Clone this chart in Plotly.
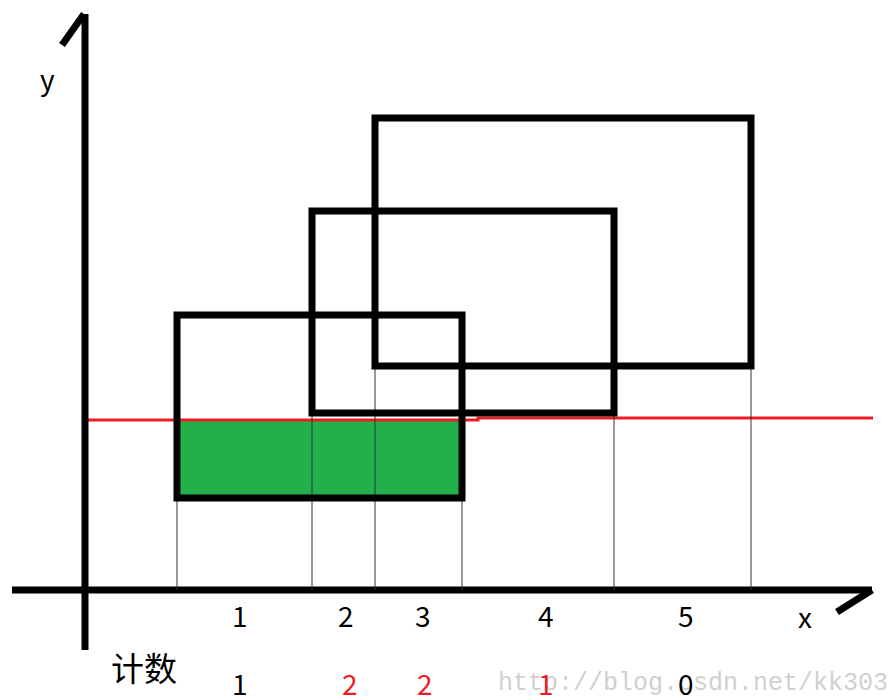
import plotly.graph_objects as go

# Rectangles (x0, x1, y_top, y_bottom) in picture units
rect_x0 = [177, 312, 375]
rect_x1 = [462, 614, 751]
rect_y0 = [315, 211, 118]
rect_y1 = [498, 413, 366]

# Filled region below the scan line
fill_x = [177, 462]
fill_y = [420, 498]

# scan line
scan_x = [85, 478, 478, 873]
scan_y = [420, 420, 418, 418]

# guide lines: x position, top y
guide_x = [177, 312, 375, 462, 614, 751]
guide_top = [498, 413, 366, 498, 413, 366]
axis_y = 590

# axes
yaxis_line_x = [85, 85]
yaxis_line_y = [650, 14]
yarrow_x = [84, 62]
yarrow_y = [14, 45]
xaxis_line_x = [12, 872]
xaxis_line_y = [590, 590]
xarrow_x = [872, 837]
xarrow_y = [590, 612]

# labels
seg_labels = ["1", "2", "3", "4", "5"]
seg_x = [240, 346, 423, 546, 686]
counts = ["1", "2", "2", "1", "0"]
count_x = [240, 350, 425, 546, 686]
count_colors = ["black", "#ED1C24", "#ED1C24", "#ED1C24", "black"]

fig = go.Figure()

# green fill
fig.add_shape(type="rect", xref="x", yref="y", x0=fill_x[0], x1=fill_x[1],
              y0=fill_y[0], y1=fill_y[1], fillcolor="#22B04B",
              line=dict(width=0), layer="below")

# guide lines
for gx, gt in zip(guide_x, guide_top):
    fig.add_shape(type="line", xref="x", yref="y", x0=gx, x1=gx, y0=gt, y1=axis_y,
                  line=dict(color="#333333", width=1))

# rectangles
for x0, x1, y0, y1 in zip(rect_x0, rect_x1, rect_y0, rect_y1):
    fig.add_shape(type="rect", xref="x", yref="y", x0=x0, x1=x1, y0=y0, y1=y1,
                  line=dict(color="black", width=7), fillcolor="rgba(0,0,0,0)")

# scan line
fig.add_trace(go.Scatter(x=scan_x, y=scan_y, mode="lines",
                         line=dict(color="#ED1C24", width=3), hoverinfo="skip"))

# axes
for lx, ly in [(yaxis_line_x, yaxis_line_y), (yarrow_x, yarrow_y),
               (xaxis_line_x, xaxis_line_y), (xarrow_x, xarrow_y)]:
    fig.add_trace(go.Scatter(x=lx, y=ly, mode="lines",
                             line=dict(color="black", width=7), hoverinfo="skip"))

font_main = "Noto Sans CJK SC"

fig.add_annotation(x=47, y=78, text="y", showarrow=False,
                   font=dict(family=font_main, size=28, color="black"))
fig.add_annotation(x=805, y=616, text="x", showarrow=False,
                   font=dict(family=font_main, size=28, color="black"))

for lab, sx in zip(seg_labels, seg_x):
    fig.add_annotation(x=sx, y=615, text=lab, showarrow=False,
                       font=dict(family=font_main, size=28, color="black"))

# watermark
fig.add_annotation(x=890, y=683, text="http://blog.csdn.net/kk303", showarrow=False,
                   xanchor="right",
                   font=dict(family="Liberation Mono", size=25, color="#D0D0D0"))

fig.add_annotation(x=144, y=667, text="计数", showarrow=False,
                   font=dict(family=font_main, size=33, color="black"))
for c, cx, cc in zip(counts, count_x, count_colors):
    fig.add_annotation(x=cx, y=683, text=c, showarrow=False,
                       font=dict(family=font_main, size=28, color=cc))

# page has an 8px body margin; shift the plotting frame so units equal picture pixels
fig.update_layout(
    width=887, height=692,
    margin=dict(l=0, r=0, t=0, b=0),
    paper_bgcolor="white", plot_bgcolor="white",
    showlegend=False,
    xaxis=dict(range=[8, 895], visible=False, fixedrange=True),
    yaxis=dict(range=[700, 8], visible=False, fixedrange=True),
)

fig.write_html("out.html")
